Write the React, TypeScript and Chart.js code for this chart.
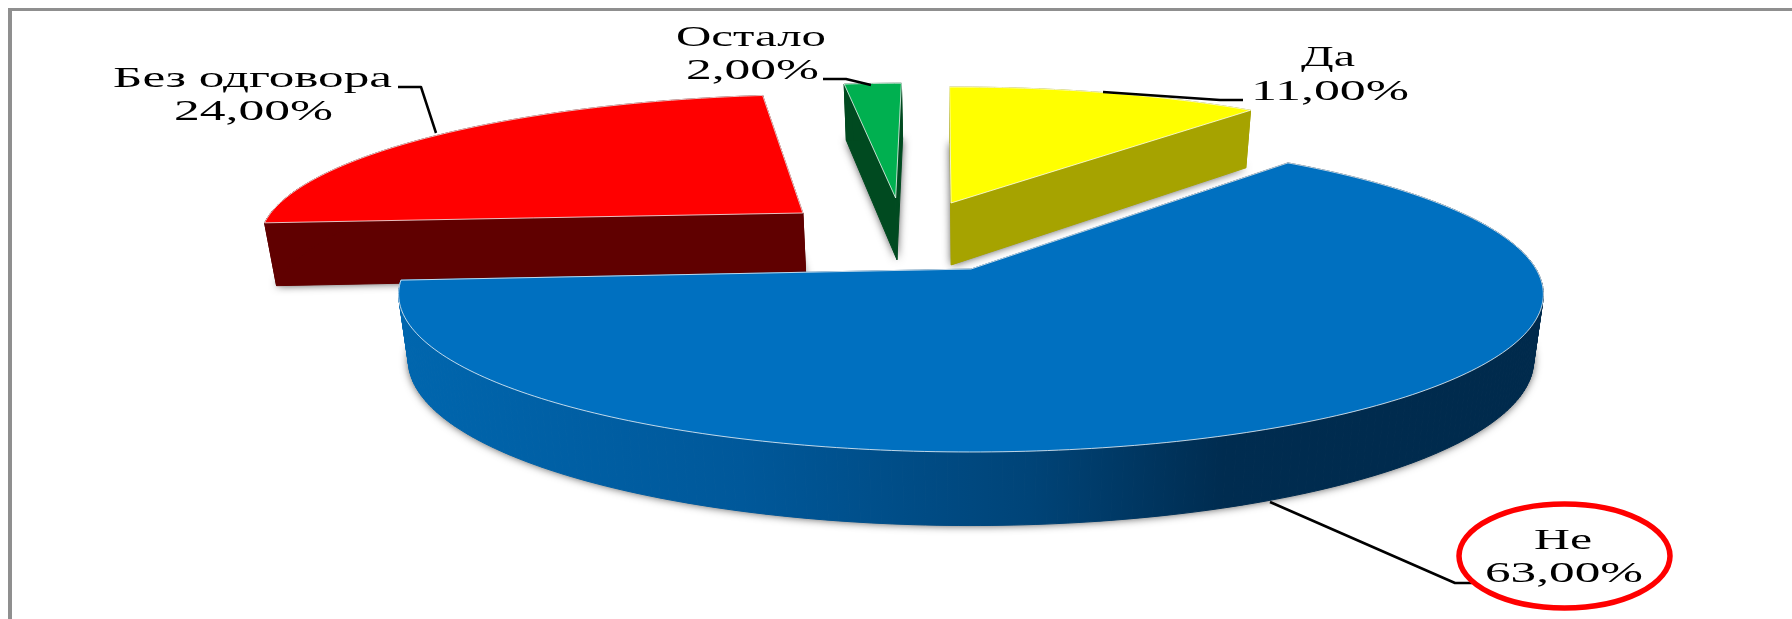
import React, { useEffect, useRef } from "react";
import { Chart, registerables } from "chart.js";

Chart.register(...registerables);

const categories = ["Да", "Не", "Без одговора", "Остало"];
const shares = [11, 63, 24, 2];
const topColors = ["#FFFF00", "#0070C0", "#FF0000", "#00B050"];
const wallColors = ["#A6A300", "", "#600000", "#004A20"];

// Perspective of the 3D pie plane
const VIEW = { x0: 971, y0: 269, a: 565, b: 153.7, k: 0.16, floor: 0.983 };
// Exploded displacement of each slice on the pie plane (unit = radius)
const explode: [number, number][] = [
  [-0.038, -0.461],
  [0, 0],
  [-0.316, -0.387],
  [-0.144, -0.499],
];
const paintOrder = [2, 3, 0, 1];

type Line = { text: (c: string, v: string) => string; x0: number; x1: number; base: number };
const labelLines: Record<number, Line[]> = {
  0: [
    { text: (c) => c, x0: 1301, x1: 1355, base: 66 },
    { text: (_, v) => v, x0: 1251, x1: 1409, base: 100 },
  ],
  1: [
    { text: (c) => c, x0: 1534, x1: 1592, base: 549 },
    { text: (_, v) => v, x0: 1485, x1: 1643, base: 582 },
  ],
  2: [
    { text: (c) => c, x0: 113, x1: 392, base: 87 },
    { text: (_, v) => v, x0: 174, x1: 333, base: 120 },
  ],
  3: [
    { text: (c) => c, x0: 676, x1: 826, base: 46 },
    { text: (_, v) => v, x0: 686, x1: 819, base: 79 },
  ],
};
const leaders: [number, number][][] = [
  [[1103, 92], [1220, 100], [1243, 100]],
  [[1270, 502], [1455, 583], [1472, 583]],
  [[398, 87], [421, 87], [436, 133]],
  [[823, 79], [846, 79], [871, 85]],
];

const project = (u: number, v: number) => {
  const s = 1 / (1 - VIEW.k * v);
  return { x: VIEW.x0 + VIEW.a * u * s, y: VIEW.y0 + VIEW.b * v * s, s };
};
const toFloor = (p: { x: number; y: number; s: number }) => ({
  x: VIEW.x0 + (p.x - VIEW.x0) * VIEW.floor,
  y: p.y + 20 + 45 * p.s,
  s: p.s,
});

const pie3d = {
  id: "pie3d",
  beforeDatasetsDraw(chart: any) {
    const ctx: CanvasRenderingContext2D = chart.ctx;
    const arcs = chart.getDatasetMeta(0).data;

    const outline = (i: number) => {
      const arc = arcs[i];
      const [ou, ov] = explode[i];
      const pts = [project(ou, ov)];
      const n = Math.max(4, Math.ceil((arc.endAngle - arc.startAngle) * 60));
      for (let j = 0; j <= n; j++) {
        const a = arc.startAngle + ((arc.endAngle - arc.startAngle) * j) / n + Math.PI / 2;
        pts.push(project(ou + Math.sin(a), ov - Math.cos(a)));
      }
      return pts;
    };
    const trace = (pts: { x: number; y: number }[]) => {
      ctx.beginPath();
      pts.forEach((p, j) => (j ? ctx.lineTo(p.x, p.y) : ctx.moveTo(p.x, p.y)));
      ctx.closePath();
    };

    const blueWall = () => {
      const g = ctx.createLinearGradient(400, 0, 1543, 0);
      g.addColorStop(0, "#0066AE");
      g.addColorStop(0.3, "#00589A");
      g.addColorStop(0.55, "#004478");
      g.addColorStop(0.72, "#002C50");
      g.addColorStop(1, "#002A4C");
      return g;
    };

    for (const i of paintOrder) {
      const pts = outline(i);
      const low = pts.map(toFloor);
      // soft shadow cast by the underside
      ctx.save();
      ctx.shadowColor = "rgba(0,0,0,0.7)";
      ctx.shadowBlur = 9;
      ctx.fillStyle = "#999";
      trace(low);
      ctx.fill();
      ctx.restore();

      // side walls
      const wall: any = wallColors[i] || blueWall();
      ctx.fillStyle = wall;
      ctx.strokeStyle = wall;
      ctx.lineWidth = 1;
      for (let j = 0; j < pts.length; j++) {
        const q = (j + 1) % pts.length;
        trace([pts[j], pts[q], low[q], low[j]]);
        ctx.fill();
        ctx.stroke();
      }

      // top face
      trace(pts);
      ctx.fillStyle = arcs[i].options.backgroundColor;
      ctx.fill();
      ctx.strokeStyle = "rgba(255,255,255,0.75)";
      ctx.lineWidth = 1;
      ctx.stroke();
    }

    // frame
    ctx.fillStyle = "#8F8F8F";
    ctx.fillRect(8, 8, 1784, 3);
    ctx.fillRect(8, 8, 4, 611);

    // leader lines
    ctx.strokeStyle = "#000";
    ctx.lineWidth = 2.5;
    ctx.lineJoin = "round";
    leaders.forEach((l) => {
      ctx.beginPath();
      l.forEach((p, j) => (j ? ctx.lineTo(p[0], p[1]) : ctx.moveTo(p[0], p[1])));
      ctx.stroke();
    });

    // data labels, stretched the way the picture stretches them
    ctx.fillStyle = "#000";
    ctx.font = '30px "Liberation Serif"';
    ctx.textBaseline = "alphabetic";
    ctx.textAlign = "left";
    categories.forEach((c, i) => {
      const v = shares[i].toFixed(2).replace(".", ",") + "%";
      labelLines[i].forEach((ln) => {
        const t = ln.text(c, v);
        const w = ctx.measureText(t).width;
        ctx.save();
        ctx.translate(ln.x0, ln.base);
        ctx.scale((ln.x1 - ln.x0) / w, 1);
        ctx.fillText(t, 0, 0);
        ctx.restore();
      });
    });

    // red ellipse highlighting the "Не" answer
    ctx.strokeStyle = "#FF0000";
    ctx.lineWidth = 5.5;
    ctx.beginPath();
    ctx.ellipse(1564.5, 556, 105.5, 52, 0, 0, Math.PI * 2);
    ctx.stroke();

    return false; // the projected slices replace the flat arcs
  },
};

export default function App() {
  const ref = useRef<HTMLCanvasElement>(null);
  useEffect(() => {
    const chart = new Chart(ref.current!, {
      type: "pie",
      data: {
        labels: categories,
        datasets: [{ data: shares, backgroundColor: topColors, borderWidth: 0 }],
      },
      options: {
        animation: false,
        responsive: false,
        rotation: -0.5,
        plugins: { legend: { display: false }, tooltip: { enabled: false } },
      },
      plugins: [pie3d],
    } as any);
    return () => chart.destroy();
  }, []);
  return (
    <canvas
      ref={ref}
      width={1792}
      height={619}
      style={{ position: "fixed", left: 0, top: 0, width: 1792, height: 619, background: "#fff", filter: "blur(0.5px)" }}
    />
  );
}
